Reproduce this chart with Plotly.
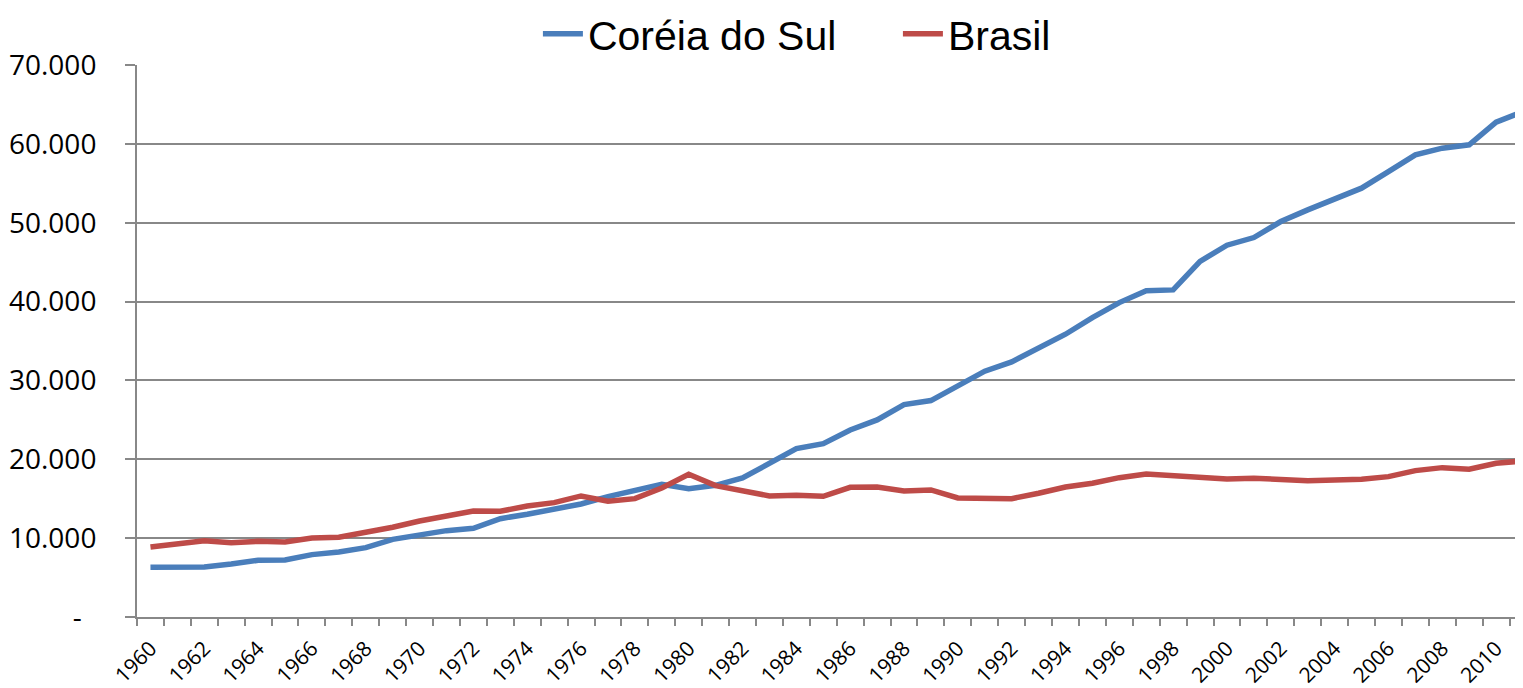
import plotly.graph_objects as go

years = list(range(1960, 2012))
coreia = [6300, 6380, 6340, 6720, 7190, 7230, 7910, 8250, 8800, 9850,
          10400, 10950, 11250, 12470, 13030, 13700, 14330, 15260, 15980, 16830,
          16280, 16700, 17630, 19580, 21350, 21990, 23720, 24990, 26930, 27450,
          29300, 31170, 32350, 34170, 35860, 37970, 39870, 41360, 41480, 45100,
          47150, 48120, 50150, 51630, 52990, 54380, 56490, 58610, 59450, 59880,
          62750, 64100]
brasil = [8880, 9350, 9680, 9430, 9600, 9510, 10020, 10110, 10700, 11380,
          12180, 12810, 13450, 13410, 14080, 14500, 15350, 14670, 15010, 16360,
          18100, 16660, 16020, 15350, 15440, 15310, 16450, 16480, 15980, 16110,
          15100, 15100, 15010, 15690, 16490, 16960, 17670, 18140, 17930, 17760,
          17510, 17590, 17380, 17290, 17380, 17470, 17800, 18560, 18940, 18730,
          19500, 19790]
x_labels = [str(y) for y in range(1960, 2011, 2)]
y_ticks = [0, 10000, 20000, 30000, 40000, 50000, 60000, 70000]
y_labels = ["-\u00a0\u00a0", "10.000", "20.000", "30.000", "40.000", "50.000", "60.000", "70.000"]

fig = go.Figure()
fig.add_trace(go.Scatter(x=years, y=coreia, mode="lines", name="Coréia do Sul",
                         line=dict(color="#4A7EBB", width=5.5)))
fig.add_trace(go.Scatter(x=years, y=brasil, mode="lines", name="Brasil",
                         line=dict(color="#BE4B48", width=5.5)))

grid = "#888888"
fig.update_layout(
    width=1515, height=680,
    margin=dict(l=129, r=0, t=57, b=71, autoexpand=False),
    plot_bgcolor="white", paper_bgcolor="white",
    font=dict(family="Open Sans", color="black"),
    legend=dict(orientation="h", x=0.549, xanchor="center", y=1.056, yanchor="middle",
                font=dict(family="Liberation Sans", size=41), itemwidth=40,
                entrywidth=305, bgcolor="rgba(0,0,0,0)"),
    xaxis=dict(type="linear", range=[1959.5, 2011.0], automargin=False,
               tickvals=list(range(1960, 2011, 2)), ticktext=x_labels,
               tickangle=-45, ticks="", tickfont=dict(size=21),
               ticklabelstandoff=9,
               showgrid=False, zeroline=False,
               showline=True, linecolor=grid, linewidth=2,
               minor=dict(tick0=1959.5, dtick=1, ticks="outside", ticklen=7,
                          tickwidth=2, tickcolor=grid, showgrid=False)),
    yaxis=dict(range=[0, 70000], tickvals=y_ticks, ticktext=y_labels, automargin=False,
               tickfont=dict(size=28), ticks="outside", ticklen=10,
               tickwidth=2, tickcolor=grid, ticklabelstandoff=23,
               showgrid=True, gridcolor=grid, gridwidth=2, zeroline=False,
               showline=True, linecolor=grid, linewidth=2),
)
fig.write_html("out.html")
